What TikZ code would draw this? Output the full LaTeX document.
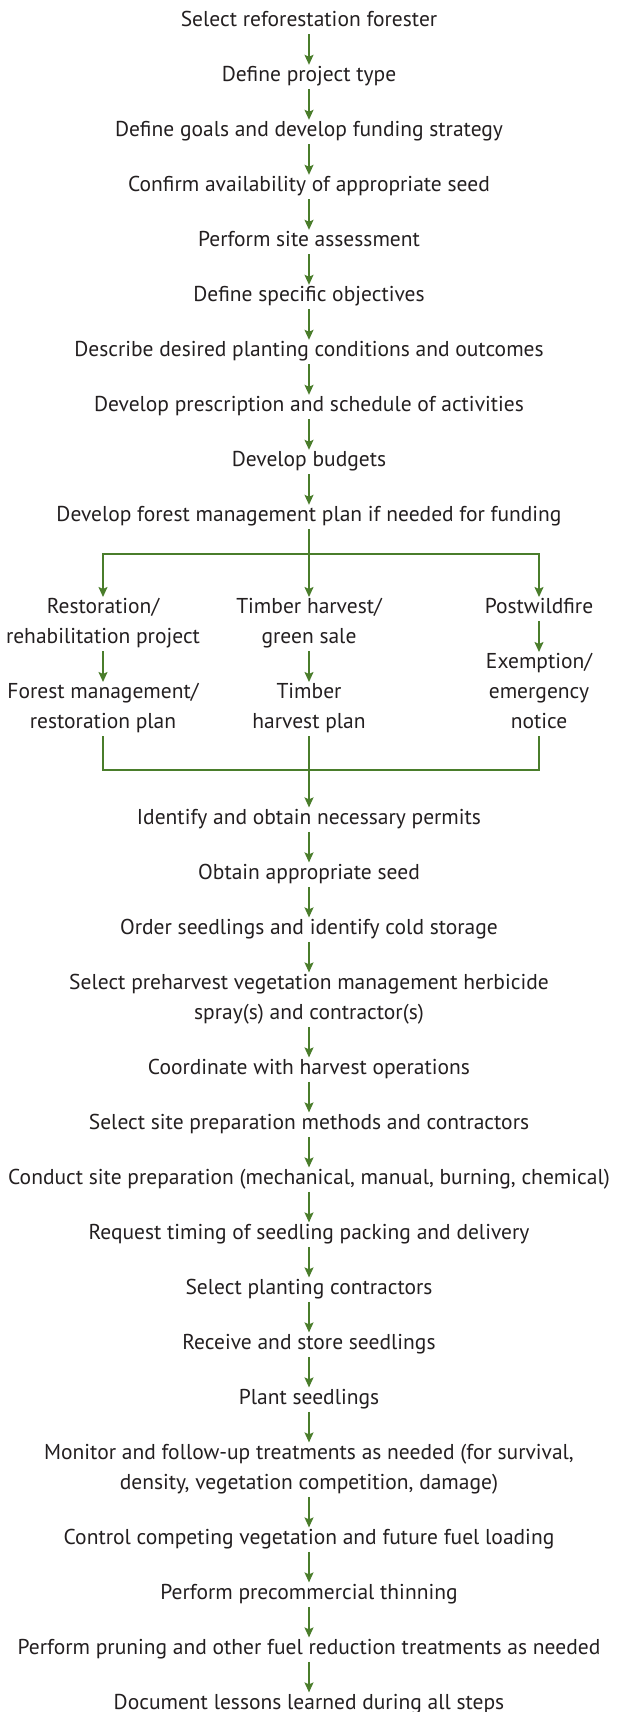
\documentclass[tikz,border=0pt]{standalone}
\usepackage{fontspec}
\setmainfont{PT Sans}
\usetikzlibrary{positioning,arrows.meta}
\definecolor{leaf}{HTML}{4A7D2B}
\definecolor{ink}{HTML}{231F20}
\tikzstyle{flow} = [draw=leaf,line width=1.6pt,-{Stealth[length=10pt,width=9pt,inset=2pt]}]
\tikzstyle{link} = [draw=leaf,line width=1.6pt]

\begin{document}
\begin{tikzpicture}
		[
		x=1pt,y=1pt,
		stepbox/.style={
		text=ink,
		align=center,
		inner xsep=0pt,
		inner ysep=2.5pt,
		text height=14pt,
		text depth=5pt,
		font=\fontsize{21.5}{30}\selectfont},
		twoline/.style={stepbox,text height=44pt},
		threeline/.style={stepbox,text height=74pt},
		node distance=30.6pt
		]
		\useasboundingbox (0,0) rectangle (618,-1712);
		\node[stepbox] (forester) at (309,-22) {Select reforestation forester};
		\node[stepbox,below=of forester] (type) {Define project type};
		\node[stepbox,below=of type] (goals) {Define goals and develop funding strategy};
		\node[stepbox,below=of goals] (seed) {Confirm availability of appropriate seed};
		\node[stepbox,below=of seed] (assess) {Perform site assessment};
		\node[stepbox,below=of assess] (objectives) {Define specific objectives};
		\node[stepbox,below=of objectives] (desired) {Describe desired planting conditions and outcomes};
		\node[stepbox,below=of desired] (prescription) {Develop prescription and schedule of activities};
		\node[stepbox,below=of prescription] (budgets) {Develop budgets};
		\node[stepbox,below=of budgets] (fmp) {Develop forest management plan if needed for funding};
		% three project paths
		\node[twoline,anchor=north] (restoration) at (103,-597) {Restoration/\\rehabilitation project};
		\node[twoline,anchor=north] (timber) at (309,-597) {Timber harvest/\\green sale};
		\node[stepbox,anchor=north] (postfire) at (539,-597) {Postwildfire};
		\node[twoline,below=of restoration] (restplan) {Forest management/\\restoration plan};
		\node[twoline,below=of timber] (thp) {Timber\\harvest plan};
		\node[threeline,below=of postfire] (exemption) {Exemption/\\emergency\\notice};
		\coordinate (split) at (309,-554);
		\coordinate (join) at (309,-770);
		\node[stepbox,below=71pt of thp] (permits) {Identify and obtain necessary permits};
		\node[stepbox,below=of permits] (obtain) {Obtain appropriate seed};
		\node[stepbox,below=of obtain] (order) {Order seedlings and identify cold storage};
		\node[twoline,below=of order] (spray) {Select preharvest vegetation management herbicide\\spray(s) and contractor(s)};
		\node[stepbox,below=of spray] (harvest) {Coordinate with harvest operations};
		\node[stepbox,below=of harvest] (methods) {Select site preparation methods and contractors};
		\node[stepbox,below=of methods] (siteprep) {Conduct site preparation (mechanical, manual, burning, chemical)};
		\node[stepbox,below=of siteprep] (timing) {Request timing of seedling packing and delivery};
		\node[stepbox,below=of timing] (planters) {Select planting contractors};
		\node[stepbox,below=of planters] (store) {Receive and store seedlings};
		\node[stepbox,below=of store] (plant) {Plant seedlings};
		\node[twoline,below=of plant] (monitor) {Monitor and follow-up treatments as needed (for survival,\\density, vegetation competition, damage)};
		\node[stepbox,below=of monitor] (control) {Control competing vegetation and future fuel loading};
		\node[stepbox,below=of control] (thinning) {Perform precommercial thinning};
		\node[stepbox,below=of thinning] (pruning) {Perform pruning and other fuel reduction treatments as needed};
		\node[stepbox,below=of pruning] (lessons) {Document lessons learned during all steps};
		\foreach \a/\b in {forester/type,type/goals,goals/seed,seed/assess,assess/objectives,
		objectives/desired,desired/prescription,prescription/budgets,budgets/fmp,
		fmp/timber,restoration/restplan,timber/thp,postfire/exemption,thp/permits,
		permits/obtain,obtain/order,order/spray,spray/harvest,harvest/methods,methods/siteprep,
		siteprep/timing,timing/planters,planters/store,store/plant,plant/monitor,
		monitor/control,control/thinning,thinning/pruning,pruning/lessons}
		\draw[flow] (\a) -- (\b);
		\draw[flow] (split) -| (restoration);
		\draw[flow] (split) -| (postfire);
		\draw[link] (restplan) |- (join) -| (exemption);
		\end{tikzpicture}
\end{document}
